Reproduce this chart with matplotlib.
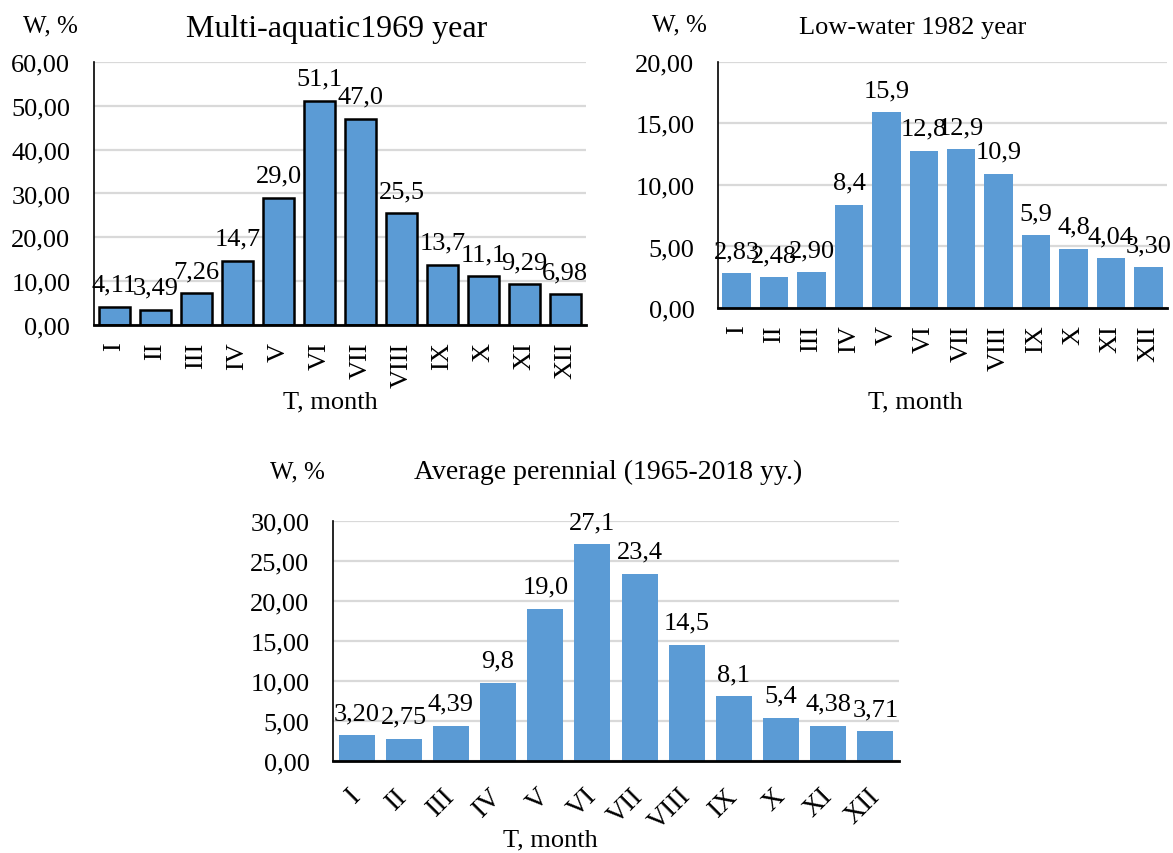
import matplotlib
matplotlib.use("Agg")
import matplotlib.pyplot as plt
import matplotlib.transforms as mtransforms
import numpy as np

plt.rcParams['font.family'] = ['Liberation Serif', 'DejaVu Serif']

# monthly runoff distribution, % of annual volume
months = ["I", "II", "III", "IV", "V", "VI", "VII", "VIII", "IX", "X", "XI", "XII"]

w_1969 = [4.11, 3.49, 7.26, 14.7, 29.0, 51.1, 47.0, 25.5, 13.7, 11.1, 9.29, 6.98]
dec_1969 = [2, 2, 2, 1, 1, 1, 1, 1, 1, 1, 2, 2]

w_1982 = [2.83, 2.48, 2.90, 8.4, 15.9, 12.8, 12.9, 10.9, 5.9, 4.8, 4.04, 3.30]
dec_1982 = [2, 2, 2, 1, 1, 1, 1, 1, 1, 1, 2, 2]

w_mean = [3.20, 2.75, 4.39, 9.8, 19.0, 27.1, 23.4, 14.5, 8.1, 5.4, 4.38, 3.71]
dec_mean = [2, 2, 2, 1, 1, 1, 1, 1, 1, 1, 2, 2]

BLUE = "#5B9BD5"
GRID = "#D9D9D9"


def comma(v, d):
    return f"{v:.{d}f}".replace(".", ",")


def draw(ax, vals, decs, ymax, step, edge, rot, width):
    x = np.arange(len(months))
    if edge:
        ax.bar(x, vals, width=width, color=BLUE, edgecolor="black", linewidth=1.8, zorder=2)
    else:
        ax.bar(x, vals, width=width, color=BLUE, zorder=2)
    for xi, v, d in zip(x, vals, decs):
        ax.annotate(comma(v, d), (xi, v), xytext=(0, 8), textcoords="offset points",
                    ha="center", va="bottom", fontsize=19)
    ax.set_xlim(-0.5, len(months) - 0.5)
    ax.set_ylim(0, ymax)
    ticks = np.arange(0, ymax + step / 2, step)
    ax.set_yticks(ticks)
    ax.set_yticklabels([comma(t, 2) for t in ticks], fontsize=19)
    ax.set_xticks(x)
    ax.tick_params(axis="y", length=0, pad=17)
    if rot == 90:
        ax.tick_params(axis="x", length=0, pad=12)
        ax.set_xticklabels(months, rotation=90, ha="center", va="top", fontsize=19)
    else:
        ax.tick_params(axis="x", length=0, pad=16)
        ax.set_xticklabels(months, rotation=45, ha="right", va="top", fontsize=20)
        shift = mtransforms.ScaledTranslation(9 / 100, 0, ax.figure.dpi_scale_trans)
        for lab in ax.get_xticklabels():
            lab.set_transform(lab.get_transform() + shift)
    ax.grid(axis="y", color=GRID, linewidth=1.6)
    ax.set_axisbelow(True)
    for s in ("top", "right"):
        ax.spines[s].set_visible(False)
    ax.spines["left"].set_linewidth(1.2)
    ax.spines["bottom"].set_linewidth(2)


fig = plt.figure(figsize=(11.73, 8.54), dpi=100)

ax1 = fig.add_axes([0.0801, 0.6183, 0.4194, 0.3080])
draw(ax1, w_1969, dec_1969, 60, 10, True, 90, 0.76)

ax2 = fig.add_axes([0.6121, 0.6382, 0.3828, 0.2881])
draw(ax2, w_1982, dec_1982, 20, 5, False, 90, 0.76)

ax3 = fig.add_axes([0.2839, 0.1077, 0.4825, 0.2810])
draw(ax3, w_mean, dec_mean, 30, 5, False, 45, 0.76)

# titles and axis captions
fig.text(337 / 1173, 1 - 30 / 854, "Multi-aquatic1969 year", ha="center", va="center", fontsize=23)
fig.text(50 / 1173, 1 - 26 / 854, "W, %", ha="center", va="center", fontsize=18)
fig.text(330 / 1173, 1 - 402 / 854, "T, month", ha="center", va="center", fontsize=19)

fig.text(913 / 1173, 1 - 28 / 854, "Low-water 1982 year", ha="center", va="center", fontsize=19)
fig.text(679 / 1173, 1 - 25 / 854, "W, %", ha="center", va="center", fontsize=18)
fig.text(915 / 1173, 1 - 402 / 854, "T, month", ha="center", va="center", fontsize=19)

fig.text(608 / 1173, 1 - 472 / 854, "Average perennial (1965-2018 yy.)", ha="center", va="center", fontsize=20)
fig.text(297 / 1173, 1 - 472 / 854, "W, %", ha="center", va="center", fontsize=18)
fig.text(550 / 1173, 1 - 840 / 854, "T, month", ha="center", va="center", fontsize=19)

fig.savefig("out.png", dpi=100)
